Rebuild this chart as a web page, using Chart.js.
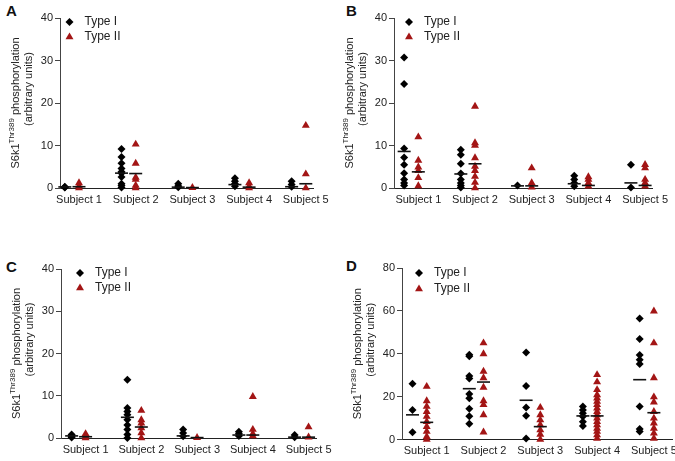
<!DOCTYPE html>
<html>
<head>
<meta charset="utf-8">
<script src="https://cdn.jsdelivr.net/npm/chart.js@4.4.1/dist/chart.umd.min.js"></script>
<style>
  body { margin: 0; background: #fff; width: 675px; height: 461px; position: relative; overflow: hidden;
         font-family: "Liberation Sans", Arial, sans-serif; }
  canvas { position: absolute; }
  .tag { position: absolute; font-weight: bold; font-size: 15px; color: #111; line-height: 17px; }
</style>
</head>
<body>
<div class="tag" style="left:6px;top:2px">A</div>
<div class="tag" style="left:346px;top:2px">B</div>
<div class="tag" style="left:6px;top:258px">C</div>
<div class="tag" style="left:346px;top:257px">D</div>

<canvas id="chartA" width="337" height="230" style="left:0;top:0"></canvas>
<canvas id="chartB" width="338" height="230" style="left:337px;top:0"></canvas>
<canvas id="chartC" width="337" height="231" style="left:0;top:230px"></canvas>
<canvas id="chartD" width="360" height="231" style="left:337px;top:230px"></canvas>

<script>
/* =========================================================
   DATA
========================================================= */
const subjects = ["Subject 1", "Subject 2", "Subject 3", "Subject 4", "Subject 5"];

// Panel A
const aType1 = [
    [0.3, 0.2, 0.1],
    [9.2, 7.3, 5.8, 4.6, 3.8, 3.5, 2.6, 1.0, 0.6, 0.1],
    [1.0, 0.5, 0.2],
    [2.3, 1.6, 1.0, 0.4],
    [1.6, 0.8, 0.3]
];
const aType2 = [
    [1.2, 0.5, 0.0],
    [10.3, 5.8, 2.5, 2.0, 0.6, 0.0],
    [0.1],
    [1.2, 0.4, 0.0],
    [14.7, 3.3, 0.0]
];
const aMed1 = [0.25, 3.5, 0.2, 0.8, 0.3];
const aMed2 = [0.3, 3.4, 0.1, 0.2, 1.0];

// Panel B
const bType1 = [
    [30.7, 24.5, 9.3, 7.2, 5.5, 3.5, 2.0, 1.2, 0.6],
    [9.0, 7.8, 5.7, 3.4, 2.0, 1.2, 0.6, 0.1],
    [0.6],
    [2.9, 2.0, 1.2, 0.4],
    [5.5, 0.1]
];
const bType2 = [
    [12.0, 6.5, 4.9, 4.1, 2.4, 0.5],
    [19.2, 10.6, 10.0, 7.1, 5.1, 4.1, 2.7, 1.3, 0.0],
    [4.7, 1.2, 0.2],
    [2.6, 2.0, 1.2, 0.4],
    [5.5, 4.7, 2.0, 1.2, 0.4]
];
const bMed1 = [8.6, 3.3, 0.5, 1.0, 1.2];
const bMed2 = [3.8, 5.7, 0.5, 0.6, 0.6];

// Panel C
const cType1 = [
    [0.8, 0.4, 0.1],
    [13.8, 7.1, 6.3, 5.5, 4.3, 3.1, 2.0, 0.8, 0.0],
    [2.0, 1.2, 0.4],
    [1.5, 1.0, 0.5],
    [0.7, 0.2]
];
const cType2 = [
    [1.0, 0.4, 0.0],
    [6.5, 4.3, 3.5, 2.4, 1.2, 0.0],
    [0.1],
    [9.8, 2.0, 1.0, 0.5],
    [2.6, 0.2]
];
const cMed1 = [0.5, 4.9, 0.5, 0.7, 0.2];
const cMed2 = [0.3, 2.6, 0.1, 0.7, 0.2];

// Panel D
const dType1 = [
    [26.0, 13.8, 3.4],
    [39.5, 38.8, 29.6, 28.5, 21.2, 19.3, 14.3, 10.9, 7.3],
    [40.6, 24.9, 14.9, 11.1, 0.5],
    [15.4, 13.8, 12.3, 10.7, 8.3, 6.3],
    [56.4, 46.9, 39.4, 37.2, 35.2, 15.4, 4.9, 3.7]
];
const dType2 = [
    [24.7, 18.0, 15.4, 13.0, 10.7, 8.3, 6.0, 3.7, 1.3, 0.0],
    [45.0, 39.9, 31.8, 28.7, 24.3, 18.0, 16.2, 11.5, 3.4],
    [14.9, 11.5, 9.1, 6.8, 4.4, 2.4, 0.0],
    [30.2, 26.8, 23.2, 20.8, 19.3, 17.7, 16.2, 14.6, 13.0, 11.5, 9.9, 8.3, 6.8, 5.2, 3.7, 2.1, 0.5],
    [59.9, 45.0, 28.7, 19.8, 17.4, 13.0, 9.9, 7.6, 5.2, 2.9, 0.5]
];
const dMed1 = [11.5, 23.7, 18.3, 11.0, 27.9];
const dMed2 = [8.0, 26.8, 6.0, 11.0, 12.5];

/* =========================================================
   STYLE
========================================================= */
const FAMILY = '"Liberation Sans", Arial, sans-serif';
const RED = "#a31515";
const INK = "#222";
const TYPE1_SHIFT = -0.25;   // Type I column sits left of the Type II column

Chart.defaults.font.family = FAMILY;
Chart.defaults.color = INK;

/* --- y title with superscript + legend, drawn on the canvas --- */
const decor = {
    id: "decor",
    afterDraw(chart) {
        const opt = chart.options.plugins.decor;
        const ctx = chart.ctx;
        const area = chart.chartArea;
        const cy = (area.top + area.bottom) / 2;

        ctx.save();
        ctx.fillStyle = INK;
        ctx.textBaseline = "middle";
        ctx.translate(area.left - 44, cy);
        ctx.rotate(-Math.PI / 2);

        const big = `11px ${FAMILY}`, small = `8px ${FAMILY}`;
        ctx.font = big;
        const wA = ctx.measureText("S6k1").width;
        const wC = ctx.measureText(" phosphorylation").width;
        ctx.font = small;
        const wB = ctx.measureText("Thr389").width;
        let x = -(wA + wB + wC) / 2;
        ctx.textAlign = "left";
        ctx.font = big;
        ctx.fillText("S6k1", x, 0);
        x += wA;
        ctx.font = small;
        ctx.fillText("Thr389", x, -4.5);
        x += wB;
        ctx.font = big;
        ctx.fillText(" phosphorylation", x, 0);

        ctx.textAlign = "center";
        ctx.fillText("(arbitrary units)", 14, 13);
        ctx.restore();

        // legend
        const lx = opt.legendX, ly = opt.legendY;
        ctx.save();
        ctx.fillStyle = "#000";
        ctx.beginPath();
        ctx.moveTo(lx - 4, ly[0]);
        ctx.lineTo(lx, ly[0] - 4);
        ctx.lineTo(lx + 4, ly[0]);
        ctx.lineTo(lx, ly[0] + 4);
        ctx.closePath();
        ctx.fill();

        ctx.fillStyle = RED;
        const r = 4.6;
        ctx.beginPath();
        ctx.moveTo(lx, ly[1] - r);
        ctx.lineTo(lx + r * 0.866, ly[1] + r / 2);
        ctx.lineTo(lx - r * 0.866, ly[1] + r / 2);
        ctx.closePath();
        ctx.fill();

        ctx.fillStyle = INK;
        ctx.font = `12px ${FAMILY}`;
        ctx.textBaseline = "middle";
        ctx.textAlign = "left";
        ctx.fillText("Type I", lx + 15, ly[0]);
        ctx.fillText("Type II", lx + 15, ly[1]);
        ctx.restore();
    }
};

/* =========================================================
   BUILD ONE PANEL
========================================================= */
function toPoints(groups, shift) {
    const pts = [];
    groups.forEach((vals, i) => vals.forEach(v => pts.push({ x: i + 1 + shift, y: v })));
    return pts;
}

function buildPanel(p) {
    const medians = [
        ...p.m1.map((v, i) => ({ x: i + 1 + TYPE1_SHIFT, y: v })),
        ...p.m2.map((v, i) => ({ x: i + 1, y: v }))
    ];

    new Chart(document.getElementById(p.id), {
        type: "scatter",
        data: {
            datasets: [
                {
                    label: "Median",
                    data: medians,
                    pointStyle: "line",
                    pointRadius: 6.5,
                    borderColor: "#111",
                    pointBorderWidth: 1.6
                },
                {
                    label: "Type I",
                    data: toPoints(p.t1, TYPE1_SHIFT),
                    pointStyle: "rectRot",
                    pointRadius: 4,
                    backgroundColor: "#000",
                    borderWidth: 0
                },
                {
                    label: "Type II",
                    data: toPoints(p.t2, 0),
                    pointStyle: "triangle",
                    pointRadius: 4.6,
                    backgroundColor: RED,
                    borderWidth: 0
                }
            ]
        },
        options: {
            responsive: false,
            animation: false,
            events: [],
            clip: false,
            layout: { padding: { left: 0, top: p.padTop, right: p.padRight, bottom: 0 } },
            plugins: {
                legend: { display: false },
                tooltip: { enabled: false },
                decor: { legendX: p.legendX, legendY: p.legendY }
            },
            scales: {
                x: {
                    type: "linear",
                    min: p.xMin,
                    max: p.xMax,
                    afterBuildTicks: s => { s.ticks = subjects.map((_, i) => ({ value: i + 1 })); },
                    afterFit: s => { s.height = p.xHeight; },
                    ticks: {
                        callback: v => subjects[v - 1],
                        font: { size: 11 },
                        color: INK,
                        padding: 5,
                        maxRotation: 0,
                        autoSkip: false
                    },
                    grid: { display: false, drawTicks: false },
                    border: { display: true, color: "#222", width: 1 }
                },
                y: {
                    min: 0,
                    max: p.yMax,
                    afterFit: s => { s.width = p.yWidth; },
                    ticks: { stepSize: p.yStep, font: { size: 11 }, color: INK, padding: 2 },
                    grid: { drawOnChartArea: false, drawTicks: true, tickLength: 5, color: "#444" },
                    border: { display: true, color: "#444", width: 1 }
                }
            }
        },
        plugins: [decor]
    });
}

/* =========================================================
   PANELS
========================================================= */
buildPanel({ id: "chartA", t1: aType1, t2: aType2, m1: aMed1, m2: aMed2,
    yMax: 40, yStep: 10, xMin: 0.665, xMax: 5.127,
    padTop: 18, padRight: 24, yWidth: 60, xHeight: 42, legendX: 69.5, legendY: [22, 37] });

buildPanel({ id: "chartB", t1: bType1, t2: bType2, m1: bMed1, m2: bMed2,
    yMax: 40, yStep: 10, xMin: 0.571, xMax: 5.122,
    padTop: 18, padRight: 23, yWidth: 57, xHeight: 42, legendX: 72, legendY: [22, 37] });

buildPanel({ id: "chartC", t1: cType1, t2: cType2, m1: cMed1, m2: cMed2,
    yMax: 40, yStep: 10, xMin: 0.559, xMax: 5.145,
    padTop: 39, padRight: 16, yWidth: 61, xHeight: 23, legendX: 80, legendY: [43, 58] });

buildPanel({ id: "chartD", t1: dType1, t2: dType2, m1: dMed1, m2: dMed2,
    yMax: 80, yStep: 20, xMin: 0.565, xMax: 5.319,
    padTop: 38, padRight: 25, yWidth: 65, xHeight: 21.5, legendX: 82, legendY: [43, 59] });
</script>
</body>
</html>
